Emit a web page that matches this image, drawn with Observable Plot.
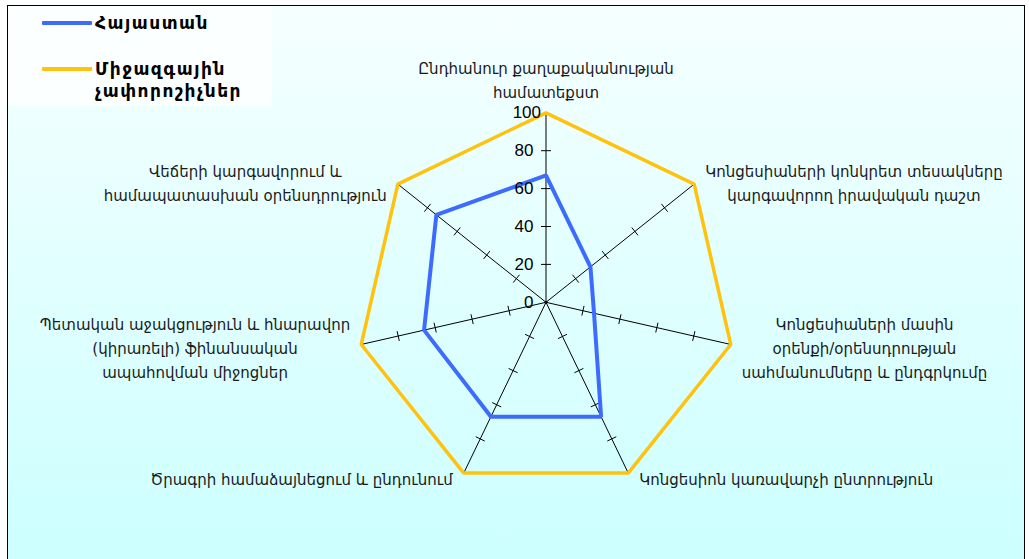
<!DOCTYPE html>
<html><head><meta charset="utf-8">
<script src="https://cdn.jsdelivr.net/npm/d3@7"></script>
<script src="https://cdn.jsdelivr.net/npm/@observablehq/plot@0.6"></script>
<style>
body{margin:0;background:#fff;}
#wrap{position:relative;width:1029px;height:559px;overflow:hidden;}
#frame{position:absolute;left:7px;top:5px;width:1016px;height:600px;border:1px solid #000;background:linear-gradient(to bottom,#f6ffff 0px,#ccffff 560px);}
#legendbox{position:absolute;left:8px;top:6px;width:264px;height:100px;background:#fbffff;}
#chart{position:absolute;left:0;top:0;}
.lg{position:absolute;font-family:"DejaVu Sans",sans-serif;font-weight:bold;font-size:17px;color:#000;letter-spacing:1.5px;line-height:22px;}
.sw{position:absolute;height:4px;border-radius:1px;}
</style>
</head><body>
<div id="wrap">
<div id="frame"></div>
<div id="legendbox"></div>
<div id="chart"></div>
<div id="legend"></div>
</div>
<script>
// ---- data ----
const categories = [
  "Ընդհանուր քաղաքականության\nհամատեքստ",
  "Կոնցեսիաների կոնկրետ տեսակները\nկարգավորող իրավական դաշտ",
  "Կոնցեսիաների մասին\nօրենքի/օրենսդրության\nսահմանումները և ընդգրկումը",
  "Կոնցեսիոն կառավարչի ընտրություն",
  "Ծրագրի համաձայնեցում և ընդունում",
  "Պետական աջակցություն և հնարավոր\n(կիրառելի) ֆինանսական\nապահովման միջոցներ",
  "Վեճերի կարգավորում և\nհամապատասխան օրենսդրություն"
];
const armenia  = [67, 30, 26, 67, 67, 66, 74];
const standard = [100, 100, 100, 100, 100, 100, 100];
const tickValues = [0, 20, 40, 60, 80, 100];
const seriesNames = ["Հայաստան", "Միջազգային\nչափորոշիչներ"];
const seriesColors = ["#3d6bff", "#ffc20e"];

// ---- layout ----
const W = 1029, H = 559;
const cx = 545.5, cy = 301.8, R = 189.5; // pixels for value 100
const n = categories.length;
const ang = i => i * 2 * Math.PI / n;
const px2u = 100 / R;
const xDomain = [-cx * px2u, (W - cx) * px2u];
const yDomain = [(cy - H) * px2u, cy * px2u];

const axes = categories.map((c, i) => ({i, label: c, a: ang(i)}));
const toPts = (vals, name) => vals.map((v, i) => ({i, v, name, x: v * Math.sin(ang(i)), y: v * Math.cos(ang(i))}));
const armPts = toPts(armenia, seriesNames[0]);
const stdPts = toPts(standard, seriesNames[1]);

const h = 5 * px2u; // half tick length
const ticks = axes.flatMap(ax => tickValues.filter(t => t > 0 && t < 100).map(t => ({a: ax.a, t})));

// measure label widths to place centred blocks beside vertices (like Excel)
const ctx = document.createElement("canvas").getContext("2d");
ctx.font = "15px 'DejaVu Sans'";
const lineW = s => Math.max(...s.split("\n").map(l => ctx.measureText(l).width));
const labelDyPx = [-34, -3, 2, 4, 4, 2, -3];
const gap = 11;
const side = a => Math.abs(Math.sin(a)) < 1e-6 ? 0 : Math.sign(Math.sin(a));
const labelX = d => 100 * Math.sin(d.a) + side(d.a) * (gap + lineW(d.label) / 2) * px2u;
const labelY = d => 100 * Math.cos(d.a) - labelDyPx[d.i] * px2u;

const chart = Plot.plot({
  width: W, height: H,
  margin: 0,
  x: {domain: xDomain, range: [0, W], axis: null},
  y: {domain: yDomain, range: [H, 0], axis: null},
  style: {background: "transparent", overflow: "visible"},
  marks: [
    Plot.link(axes, {x1: () => 0, y1: () => 0, x2: d => 100 * Math.sin(d.a), y2: d => 100 * Math.cos(d.a), stroke: "#000", strokeWidth: 1}),
    Plot.link(ticks, {
      x1: d => d.t * Math.sin(d.a) - h * Math.cos(d.a), y1: d => d.t * Math.cos(d.a) + h * Math.sin(d.a),
      x2: d => d.t * Math.sin(d.a) + h * Math.cos(d.a), y2: d => d.t * Math.cos(d.a) - h * Math.sin(d.a),
      stroke: "#000", strokeWidth: 1
    }),
    Plot.dot([0], {x: () => 0, y: () => 0, r: 1.5, fill: "#000"}),
    Plot.line(stdPts, {x: "x", y: "y", curve: "linear-closed", stroke: seriesColors[1], strokeWidth: 3.5, strokeLinejoin: "miter"}),
    Plot.line(armPts, {x: "x", y: "y", curve: "linear-closed", stroke: seriesColors[0], strokeWidth: 4, strokeLinejoin: "miter"}),
    Plot.text(tickValues, {x: d => (d === 100 ? -5 : -12.5) * px2u, y: d => d, text: d => String(d), textAnchor: "end",
      fontSize: 17, fontFamily: "'Liberation Sans', Arial, sans-serif", fill: "#000"}),
    Plot.text(axes, {
      x: labelX, y: labelY, text: "label",
      textAnchor: "middle", lineAnchor: "middle", lineHeight: 1.6,
      fontSize: 15, fontFamily: "'DejaVu Sans', sans-serif", fill: "#1a1a1a"
    })
  ]
});
document.getElementById("chart").appendChild(chart);

// legend (HTML overlay, drawn over the chart as in the reference)
const lg = document.getElementById("legend");
const rowsY = [22.5, 69];
seriesNames.forEach((name, k) => {
  const sw = document.createElement("div");
  sw.className = "sw";
  sw.style.cssText = `left:42px;top:${rowsY[k] - 2}px;width:50px;background:${seriesColors[k]}`;
  lg.appendChild(sw);
  const tx = document.createElement("div");
  tx.className = "lg";
  tx.style.left = "95px";
  tx.style.top = (rowsY[k] - 11) + "px";
  tx.innerHTML = name.replace("\n", "<br>");
  lg.appendChild(tx);
});
</script>
</body></html>
